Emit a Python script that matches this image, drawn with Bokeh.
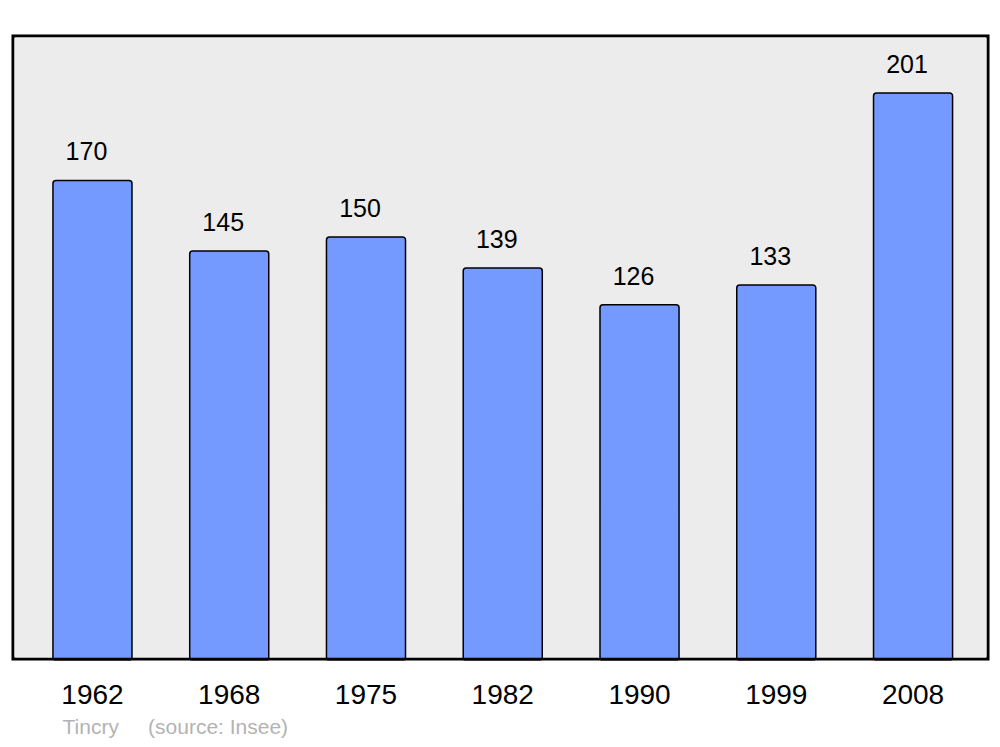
from bokeh.plotting import figure
from bokeh.models import (Range1d, FixedTicker, ColumnDataSource, LabelSet, Title, BoxAnnotation)
from bokeh.core.properties import value
from bokeh.embed import file_html
from bokeh.resources import INLINE

years = ["1962", "1968", "1975", "1982", "1990", "1999", "2008"]
population = [170, 145, 150, 139, 126, 133, 201]
commune = "Tincry"
credit = "(source: Insee)"

FONT = "Liberation Sans"
idx = list(range(len(years)))
source = ColumnDataSource(dict(x=idx, top=population, label=[str(v) for v in population]))

p = figure(width=992, height=745, output_backend="svg", toolbar_location=None,
           x_range=Range1d(-0.592, 6.559), y_range=Range1d(0, 221.7),
           min_border_left=11, min_border_right=3, min_border_top=34, min_border_bottom=85,
           y_axis_location=None)
p.background_fill_color = "#ececec"
p.border_fill_color = "white"
p.outline_line_color = None
p.grid.visible = False

p.vbar(x="x", top="top", width=0.578, bottom=0, source=source,
       fill_color="#7499ff", line_color="black", line_width=1.5, border_radius=3)

labels = LabelSet(x="x", y="top", text="label", source=source, y_offset=20, x_offset=-6,
                  text_align="center", text_baseline="alphabetic",
                  text_font=value(FONT), text_font_size="25px", text_color="black")
p.add_layout(labels)

frame_box = BoxAnnotation(fill_alpha=0, line_color="black", line_alpha=1.0, line_width=5.5,
                          border_radius=4, level="overlay")
p.add_layout(frame_box)

ax = p.xaxis[0]
ax.ticker = FixedTicker(ticks=idx)
ax.major_label_overrides = {i: y for i, y in zip(idx, years)}
ax.major_label_text_font = FONT
ax.major_label_text_font_size = "28px"
ax.major_label_text_color = "black"
ax.major_label_standoff = 18
ax.axis_line_color = None
ax.major_tick_line_color = None
ax.minor_tick_line_color = None

nb = "\u00a0" * 5
foot = Title(text=commune + nb + credit, align="left", offset=51, standoff=13,
             text_font=FONT, text_font_size="21px", text_font_style="normal",
             text_color="#b3b3b3")
p.add_layout(foot, "below")

open("out.html", "w").write(file_html(p, INLINE))
